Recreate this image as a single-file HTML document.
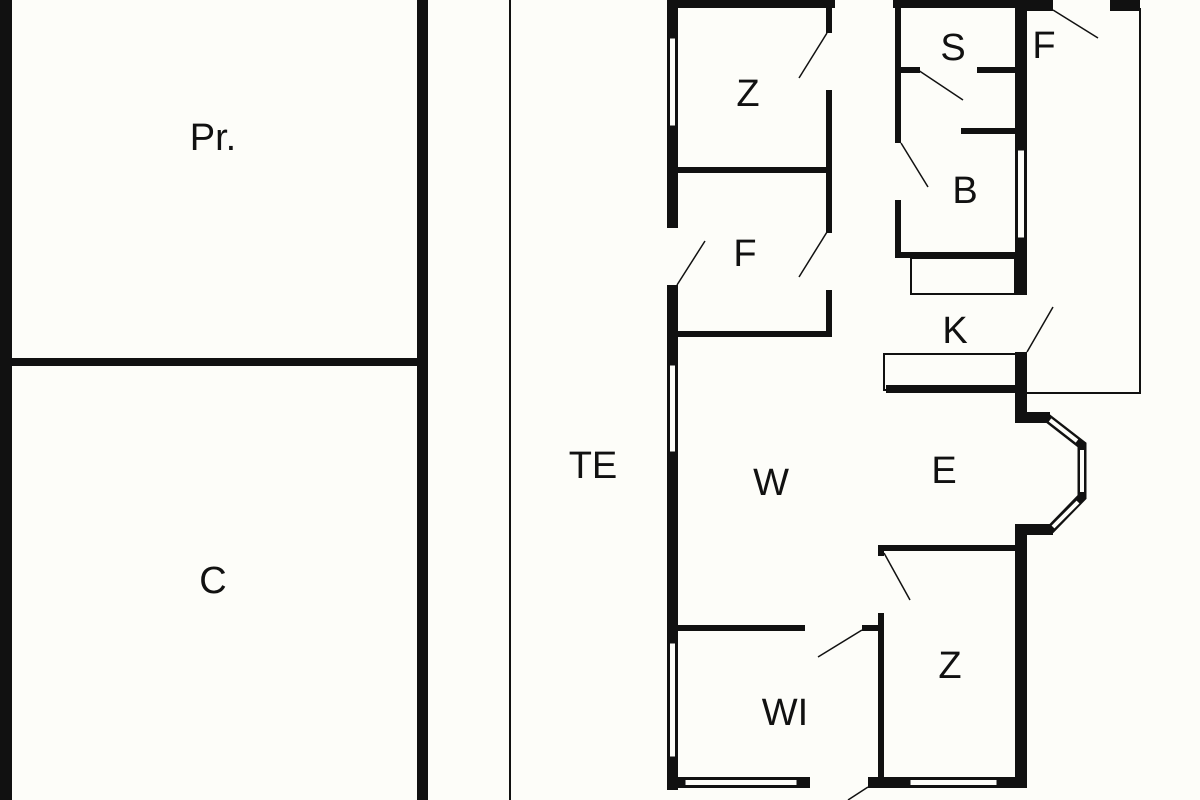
<!DOCTYPE html>
<html><head><meta charset="utf-8"><style>
html,body{margin:0;padding:0;background:#fdfdf9;}
svg{display:block}
text{font-family:"Liberation Sans",sans-serif;font-size:38px;fill:#111;text-anchor:middle;}
</style></head><body>
<svg width="1200" height="800" viewBox="0 0 1200 800" xmlns="http://www.w3.org/2000/svg">
<rect width="1200" height="800" fill="#fdfdf9"/>
<g fill="#111">
<rect x="0" y="0" width="12" height="800"/>
<rect x="417" y="0" width="11" height="800"/>
<rect x="12" y="358" width="406" height="8"/>
<rect x="509" y="0" width="2" height="800"/>
<rect x="667" y="0" width="11" height="228"/>
<rect x="667" y="285" width="11" height="505"/>
<rect x="667" y="0" width="168" height="8"/>
<rect x="893" y="0" width="125" height="8"/>
<rect x="1015" y="0" width="38" height="11"/>
<rect x="1110" y="0" width="30" height="11"/>
<rect x="826" y="5" width="6" height="28"/>
<rect x="826" y="90" width="6" height="143"/>
<rect x="826" y="290" width="6" height="47"/>
<rect x="677" y="167" width="155" height="6"/>
<rect x="677" y="331" width="155" height="6"/>
<rect x="895" y="5" width="6" height="138"/>
<rect x="895" y="200" width="6" height="58"/>
<rect x="895" y="252" width="123" height="6"/>
<rect x="901" y="67" width="19" height="6"/>
<rect x="977" y="67" width="41" height="6"/>
<rect x="961" y="128" width="57" height="6"/>
<rect x="1015" y="0" width="12" height="295"/>
<rect x="1015" y="352" width="12" height="70"/>
<rect x="886" y="385" width="130" height="8"/>
<rect x="1015" y="412" width="35" height="11"/>
<rect x="1015" y="524" width="38" height="11"/>
<rect x="1015" y="524" width="12" height="263"/>
<rect x="878" y="545" width="149" height="6"/>
<rect x="878" y="545" width="6" height="11"/>
<rect x="878" y="613" width="6" height="170"/>
<rect x="677" y="625" width="128" height="6"/>
<rect x="862" y="625" width="21" height="6"/>
<rect x="667" y="777" width="143" height="11"/>
<rect x="868" y="777" width="159" height="11"/>
</g>
<g fill="#fdfdf9" stroke="#111" stroke-width="1">
<rect x="669.5" y="38" width="6" height="88"/>
<rect x="669.5" y="365" width="6" height="87"/>
<rect x="669.5" y="643" width="6" height="114"/>
<rect x="685" y="779.5" width="112" height="6"/>
<rect x="910" y="779.5" width="87" height="6"/>
<rect x="1017.5" y="150" width="7" height="88"/>
</g>
<g stroke="#111" stroke-width="9" fill="none" stroke-linejoin="miter">
<polyline points="1046,417 1082,445 1082,497 1050,530"/>
</g>
<g stroke="#fdfdf9" stroke-width="4" fill="none">
<line x1="1050" y1="420" x2="1077" y2="441"/>
<line x1="1082" y1="450" x2="1082" y2="492"/>
<line x1="1078" y1="502" x2="1053" y2="527"/>
</g>
<g stroke="#111" stroke-width="2" fill="none">
<line x1="1140" y1="8" x2="1140" y2="393"/>
<line x1="1027" y1="393" x2="1141" y2="393"/>
<rect x="911" y="258" width="104" height="36"/>
<rect x="884" y="354" width="132" height="36"/>
</g>
<g stroke="#111" stroke-width="1.5">
<line x1="799" y1="78" x2="827" y2="33"/>
<line x1="799" y1="277" x2="827" y2="232"/>
<line x1="677" y1="285" x2="705" y2="241"/>
<line x1="918" y1="70" x2="963" y2="100"/>
<line x1="901" y1="143" x2="928" y2="187"/>
<line x1="1053" y1="10" x2="1098" y2="38"/>
<line x1="1027" y1="352" x2="1053" y2="307"/>
<line x1="884" y1="553" x2="910" y2="600"/>
<line x1="818" y1="657" x2="862" y2="630"/>
<line x1="868" y1="787" x2="848" y2="800"/>
<line x1="820" y1="0" x2="827" y2="5"/>
</g>
<g>
<text x="213" y="150">Pr.</text>
<text x="213" y="593">C</text>
<text x="593" y="478">TE</text>
<text x="748" y="106">Z</text>
<text x="953" y="60">S</text>
<text x="1044" y="58">F</text>
<text x="965" y="203">B</text>
<text x="745" y="266">F</text>
<text x="955" y="343">K</text>
<text x="771" y="495">W</text>
<text x="944" y="483">E</text>
<text x="950" y="678">Z</text>
<text x="785" y="725">WI</text>
</g>
</svg>
</body></html>
